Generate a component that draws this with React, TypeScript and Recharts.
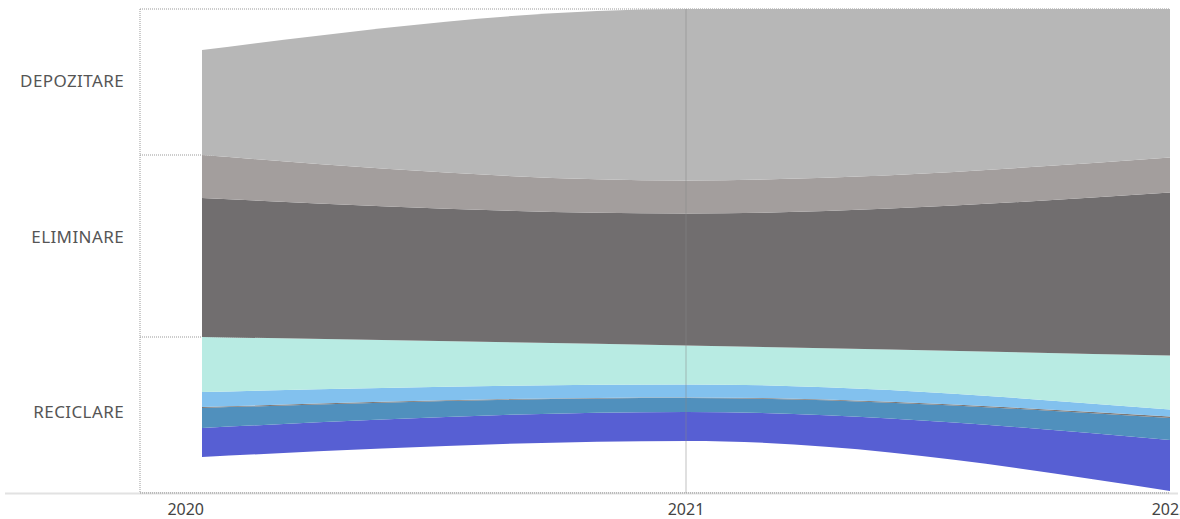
import { Area, AreaChart, CartesianGrid, Customized, ReferenceLine, XAxis, YAxis } from 'recharts';

// values, stacked from the bottom (arbitrary units)
const years = ['2020', '2021', '2022'];
const offset = [36, 52, 2];
const reciclareIndigo = [29, 29, 51];
const reciclareSteel = [20, 14, 22];
const reciclareThin = [1, 0.6, 1.5];
const reciclareLightBlue = [15, 13, 7];
const reciclareTeal = [55, 39, 54];
const eliminareDark = [139, 132, 163];
const eliminareWarm = [43, 33, 35];
const depozitare = [105, 171.4, 148.5];

const groupTicks = [82, 257, 413];
const groupLabels: Record<number, string> = {
  82: 'RECICLARE',
  257: 'ELIMINARE',
  413: 'DEPOZITARE',
};
const groupBounds = [0, 156, 338, 484];

const series = [
  { key: 'indigo', values: reciclareIndigo, color: '#575fd3' },
  { key: 'steel', values: reciclareSteel, color: '#5090bd' },
  { key: 'thin', values: reciclareThin, color: '#7d7774' },
  { key: 'lightBlue', values: reciclareLightBlue, color: '#82c1ee' },
  { key: 'teal', values: reciclareTeal, color: '#b8ebe3' },
  { key: 'dark', values: eliminareDark, color: '#716e6f' },
  { key: 'warm', values: eliminareWarm, color: '#a39e9d' },
  { key: 'depozitare', values: depozitare, color: '#b7b7b7' },
];

const data = years.map((year, i) => {
  const row: Record<string, number | string> = { year, offset: offset[i] };
  series.forEach((s) => {
    row[s.key] = s.values[i];
  });
  return row;
});

const FONT = '"Noto Sans", sans-serif';

function GroupTick({ x, y, payload }: any) {
  return (
    <text x={x - 8} y={y} textAnchor="end" dominantBaseline="central" fill="#555" fontSize={17} fontFamily={FONT} letterSpacing={0.4}>
      {groupLabels[payload.value]}
    </text>
  );
}

function YearTick({ x, y, payload, index }: any) {
  return (
    <text x={index === 0 ? x + 2 : x} y={y + 8} textAnchor={index === 0 ? 'end' : 'middle'} dominantBaseline="central" fill="#444" fontSize={16} fontFamily={FONT}>
      {payload.value}
    </text>
  );
}

function BaseLine() {
  return <line x1={5} x2={1178} y1={493.5} y2={493.5} stroke="#e2e2e2" strokeWidth={2} />;
}

export default function App() {
  return (
    <div style={{ position: 'absolute', left: 0, top: 0 }}>
      <AreaChart width={1180} height={519} data={data} margin={{ top: 9, right: 10, left: 0, bottom: 0 }}>
        <Customized component={BaseLine} />
        <CartesianGrid vertical={false} horizontalValues={groupBounds} stroke="#999" strokeDasharray="1 1" />
        <XAxis
          dataKey="year"
          padding={{ left: 62, right: 0 }}
          height={26}
          tickLine={false}
          axisLine={{ stroke: '#999', strokeDasharray: '1 1' }}
          tick={<YearTick />}
          interval={0}
        />
        <YAxis
          width={140}
          domain={[0, 484]}
          ticks={groupTicks}
          tickLine={false}
          axisLine={{ stroke: '#999', strokeDasharray: '1 1' }}
          tick={<GroupTick />}
          allowDataOverflow
        />
        <Area dataKey="offset" stackId="a" type="monotoneX" fill="none" stroke="none" isAnimationActive={false} />
        {series.map((s) => (
          <Area
            key={s.key}
            dataKey={s.key}
            stackId="a"
            type="monotoneX"
            fill={s.color}
            fillOpacity={1}
            stroke="none"
            isAnimationActive={false}
          />
        ))}
        <ReferenceLine x="2021" stroke="#888" strokeOpacity={0.35} strokeWidth={1.5} />
      </AreaChart>
    </div>
  );
}
